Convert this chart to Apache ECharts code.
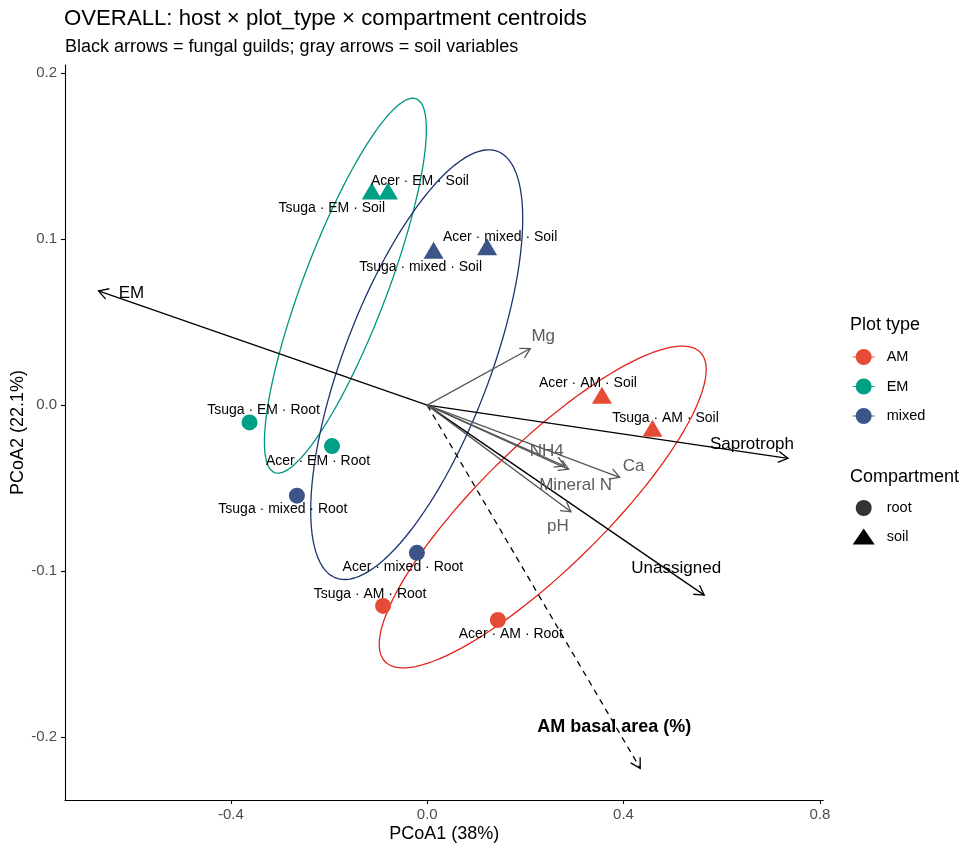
<!DOCTYPE html>
<html>
<head>
<meta charset="utf-8">
<script src="https://cdn.jsdelivr.net/npm/echarts@6/dist/echarts.min.js"></script>
<style>html,body{margin:0;padding:0;background:#fff;}#chart{width:980px;height:855px;}</style>
</head>
<body>
<div id="chart"></div>
<script>
// ---------- data ----------
const plotTypes = ['AM', 'EM', 'mixed'];
const compartments = ['root', 'soil'];
const centroidLabels = [
  'Acer · AM · Root', 'Acer · AM · Soil', 'Acer · EM · Root', 'Acer · EM · Soil',
  'Acer · mixed · Root', 'Acer · mixed · Soil', 'Tsuga · AM · Root', 'Tsuga · AM · Soil',
  'Tsuga · EM · Root', 'Tsuga · EM · Soil', 'Tsuga · mixed · Root', 'Tsuga · mixed · Soil'
];
const centroidPlotType = ['AM','AM','EM','EM','mixed','mixed','AM','AM','EM','EM','mixed','mixed'];
const centroidCompartment = ['root','soil','root','soil','root','soil','root','soil','root','soil','root','soil'];
const pcoa1 = [0.144, 0.356, -0.194, -0.080, -0.021, 0.122, -0.090, 0.459, -0.362, -0.113, -0.2655, 0.013];
const pcoa2 = [-0.1295, 0.006, -0.0247, 0.129, -0.089, 0.0954, -0.121, -0.014, -0.0104, 0.129, -0.0546, 0.0934];

// ellipse parameters per plot type (data units): centre, half-width, half-height, x-offset of top point
const ellipseGroups = ['AM', 'EM', 'mixed'];
const ellipseCx = [0.2353, -0.1667, -0.0214];
const ellipseCy = [-0.0614, 0.0720, 0.0244];
const ellipseHalfW = [0.3331, 0.1650, 0.2160];
const ellipseHalfH = [0.0970, 0.1130, 0.1295];
const ellipseTopDx = [0.2842, 0.1375, 0.1467];

// fungal guild vectors (black)
const guildNames = ['EM', 'Saprotroph', 'Unassigned'];
const guildPC1 = [-0.6697, 0.735, 0.5644];
const guildPC2 = [0.0689, -0.0321, -0.1145];
// AM basal area vector (dashed)
const basalNames = ['AM basal area (%)'];
const basalPC1 = [0.434];
const basalPC2 = [-0.2189];
// soil variable vectors (gray)
const soilNames = ['Mg', 'NH4', 'Mineral N', 'Ca', 'pH'];
const soilPC1 = [0.2099, 0.280, 0.288, 0.392, 0.2928];
const soilPC2 = [0.0341, -0.0367, -0.0387, -0.0435, -0.0643];

const xTicks = [-0.4, 0.0, 0.4, 0.8];
const yTicks = [-0.2, -0.1, 0.0, 0.1, 0.2];

// ---------- style ----------
const FONT = '"Liberation Sans", Arial, Helvetica, sans-serif';
const pointColors = { AM: '#E64B35', EM: '#00A087', mixed: '#3C5488' };
const ellipseColors = { AM: '#E2231A', EM: '#00957E', mixed: '#1B3470' };
const centroidLabelOffsets = [
  [13, 14], [-14, -12], [-14, 15], [32, -10], [-14, 14], [13, -10],
  [-13, -12], [13, -10], [14, -12], [-40, 17], [-14, 13], [-13, 17]
];
const guildLabelOffsets = [[33, 3], [-36, -14], [-28, -27]];
const basalLabelOffsets = [[-26, -41]];
const soilLabelOffsets = [[13, -12], [-18, -15], [7, 16], [14, -11], [-13, 15]];
const legendIconPath = 'path://M0,7.4H22V8.6H0Z M19,8A8,8 0 1 1 3,8A8,8 0 1 1 19,8Z';

// ---------- build ----------
function ellipsePoints(i) {
  const W = ellipseHalfW[i], H = ellipseHalfH[i];
  const a = ellipseTopDx[i] * H / W;
  const b = Math.sqrt(Math.max(H * H - a * a, 0));
  const pts = [];
  for (let k = 0; k <= 120; k++) {
    const t = 2 * Math.PI * k / 120;
    pts.push([ellipseCx[i] + W * Math.cos(t), ellipseCy[i] + a * Math.cos(t) + b * Math.sin(t)]);
  }
  return pts;
}

function arrowSeries(name, xs, ys, labels, offsets, color, width, dash, fontSize, fontWeight) {
  return {
    type: 'custom', name: name, coordinateSystem: 'cartesian2d', z: 4, silent: true,
    data: xs.map((v, i) => [v, ys[i]]),
    renderItem: function (params, api) {
      const o = api.coord([0, 0]);
      const t = api.coord([api.value(0), api.value(1)]);
      const ang = Math.atan2(t[1] - o[1], t[0] - o[0]);
      const L = 11, A = Math.PI / 6;
      const h1 = [t[0] - L * Math.cos(ang - A), t[1] - L * Math.sin(ang - A)];
      const h2 = [t[0] - L * Math.cos(ang + A), t[1] - L * Math.sin(ang + A)];
      const off = offsets[params.dataIndex];
      return {
        type: 'group',
        children: [
          { type: 'line', shape: { x1: o[0], y1: o[1], x2: t[0], y2: t[1] },
            style: { stroke: color, lineWidth: width, lineDash: dash || null } },
          { type: 'polyline', shape: { points: [h1, t, h2] },
            style: { stroke: color, lineWidth: width, fill: null } },
          { type: 'text', x: t[0] + off[0], y: t[1] + off[1],
            style: { text: labels[params.dataIndex], fill: color === '#000' ? '#000' : '#5C5C5C',
                     fontSize: fontSize, fontFamily: FONT, fontWeight: fontWeight || 'normal',
                     align: 'center', verticalAlign: 'middle' } }
        ]
      };
    }
  };
}

const series = [];
ellipseGroups.forEach((g, i) => {
  series.push({
    type: 'line', name: 'ellipse-' + g, data: ellipsePoints(i), showSymbol: false, symbol: 'none',
    silent: true, z: 1, lineStyle: { color: ellipseColors[g], width: 1.3 }, animation: false
  });
});
series.push(arrowSeries('guilds', guildPC1, guildPC2, guildNames, guildLabelOffsets, '#000', 1.3, null, 17));
series.push(arrowSeries('basal', basalPC1, basalPC2, basalNames, basalLabelOffsets, '#000', 1.3, [6, 5], 18, 'bold'));
series.push(arrowSeries('soil', soilPC1, soilPC2, soilNames, soilLabelOffsets, '#555555', 1.3, null, 17));

plotTypes.forEach(pt => {
  const items = [];
  centroidLabels.forEach((lab, i) => {
    if (centroidPlotType[i] !== pt) return;
    const soil = centroidCompartment[i] === 'soil';
    items.push({
      name: lab, value: [pcoa1[i], pcoa2[i]],
      symbol: soil ? 'triangle' : 'circle',
      symbolSize: soil ? [20, 17] : 16,
      label: { offset: centroidLabelOffsets[i] }
    });
  });
  series.push({
    type: 'scatter', name: pt, data: items, z: 5, color: pointColors[pt],
    itemStyle: { color: pointColors[pt], opacity: 1 },
    label: { show: true, formatter: '{b}', position: 'inside', color: '#000',
             fontSize: 14, fontFamily: FONT, align: 'center', verticalAlign: 'middle' },
    emphasis: { disabled: true }
  });
});
compartments.forEach(c => {
  series.push({ type: 'scatter', name: c, data: [], color: '#000', itemStyle: { color: '#000' },
                symbol: c === 'soil' ? 'triangle' : 'circle' });
});

const option = {
  animation: false,
  backgroundColor: '#fff',
  title: [
    { text: 'OVERALL: host × plot_type × compartment centroids', left: 64, top: 8, padding: 0,
      textStyle: { fontSize: 22.2, fontWeight: 'normal', color: '#000', fontFamily: FONT } },
    { text: 'Black arrows = fungal guilds; gray arrows = soil variables', left: 65, top: 38, padding: 0,
      textStyle: { fontSize: 18, fontWeight: 'normal', color: '#000', fontFamily: FONT } },
    { text: 'Plot type', left: 850, top: 316, padding: 0,
      textStyle: { fontSize: 18, fontWeight: 'normal', color: '#000', fontFamily: FONT } },
    { text: 'Compartment', left: 850, top: 468, padding: 0,
      textStyle: { fontSize: 18, fontWeight: 'normal', color: '#000', fontFamily: FONT } }
  ],
  legend: [
    { orient: 'vertical', left: 852.7, top: 349, padding: 0, itemWidth: 22, itemHeight: 16, itemGap: 13.5,
      selectedMode: false,
      data: plotTypes.map(p => ({ name: p, icon: legendIconPath, itemStyle: { color: pointColors[p] } })),
      textStyle: { fontSize: 14.5, color: '#000', fontFamily: FONT, padding: [0, 0, 0, 7] } },
    { orient: 'vertical', left: 852.7, top: 500, padding: 0, itemWidth: 22, itemHeight: 16, itemGap: 12.5,
      selectedMode: false,
      data: compartments.map(c => ({ name: c, icon: c === 'soil' ? 'triangle' : 'circle',
                                     itemStyle: { color: '#000' } })),
      textStyle: { fontSize: 14.5, color: '#000', fontFamily: FONT, padding: [0, 0, 0, 7] } }
  ],
  grid: { left: 65, right: 156.7, top: 65, bottom: 55, containLabel: false, outerBoundsMode: 'none' },
  xAxis: {
    type: 'value', min: -0.738, max: 0.807,
    name: 'PCoA1 (38%)', nameLocation: 'middle', nameGap: 25, nameMoveOverlap: false,
    nameTextStyle: { fontSize: 18, color: '#000', fontFamily: FONT, verticalAlign: 'top' },
    axisLine: { onZero: false, lineStyle: { color: '#000', width: 1.1 } },
    axisTick: { show: true, length: 4, lineStyle: { color: '#000', width: 1.1 }, customValues: xTicks },
    axisLabel: { customValues: xTicks, formatter: v => v.toFixed(1), fontSize: 15, color: '#4D4D4D',
                 fontFamily: FONT, margin: 7 },
    splitLine: { show: false }
  },
  yAxis: {
    type: 'value', min: -0.238, max: 0.205,
    name: 'PCoA2 (22.1%)', nameLocation: 'middle', nameGap: 38, nameRotate: 90, nameMoveOverlap: false,
    nameTextStyle: { fontSize: 18, color: '#000', fontFamily: FONT },
    axisLine: { onZero: false, lineStyle: { color: '#000', width: 1.1 } },
    axisTick: { show: true, length: 4, lineStyle: { color: '#000', width: 1.1 }, customValues: yTicks },
    axisLabel: { customValues: yTicks, formatter: v => v.toFixed(1), fontSize: 15, color: '#4D4D4D',
                 fontFamily: FONT, margin: 8 },
    splitLine: { show: false }
  },
  series: series
};

const chart = echarts.init(document.getElementById('chart'), null, { renderer: 'canvas' });
chart.setOption(option);
</script>
</body>
</html>
